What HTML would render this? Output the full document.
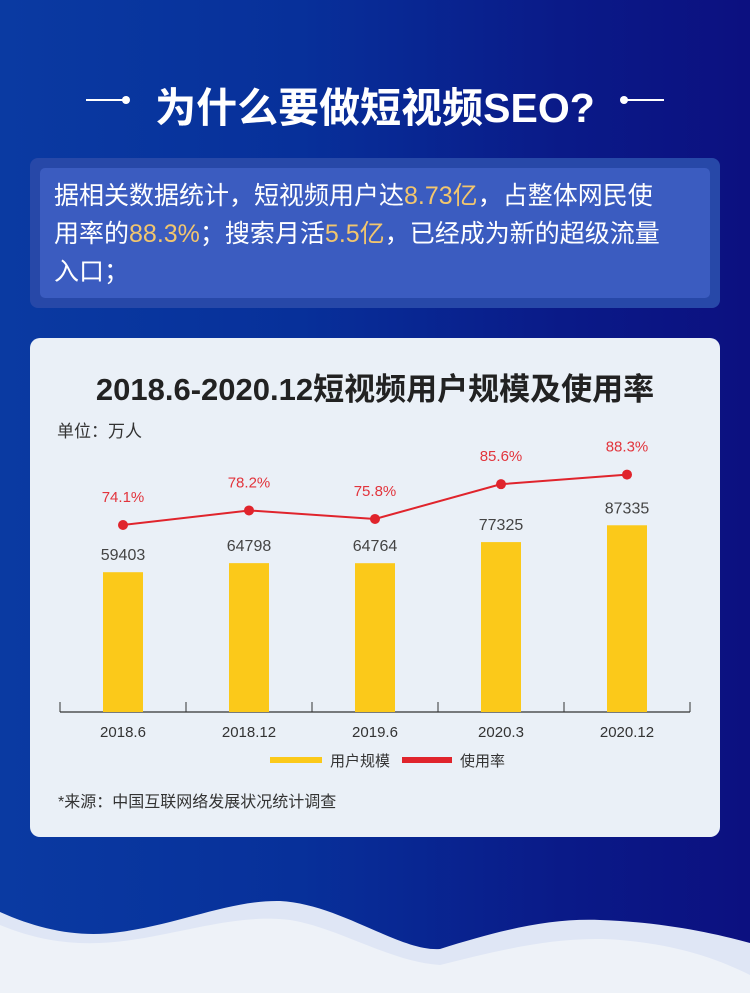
<!DOCTYPE html>
<html><head><meta charset="utf-8"><style>
body{margin:0;width:750px;height:993px;overflow:hidden;font-family:"Liberation Sans","Noto Sans CJK SC",sans-serif;}
#bg{position:absolute;left:0;top:0;width:750px;height:993px;background:linear-gradient(90deg,#0a3aa2 0%,#07309a 40%,#0a1a88 75%,#0c1080 100%);}
.abs{position:absolute;}
</style></head><body>
<div id="bg"></div>
<svg class="abs" style="left:0;top:0" width="750" height="993">
<path d="M0 912 C40 930 80 938 120 932 C180 924 230 900 280 901 C340 904 400 952 440 949 C500 930 550 918 600 920 C660 922 710 932 750 943 L750 993 L0 993 Z" fill="#dfe6f5"/>
<path d="M0 925 C60 950 110 945 160 935 C210 925 250 915 290 920 C340 928 390 962 440 965 C500 950 560 935 620 940 C680 945 720 960 750 975 L750 993 L0 993 Z" fill="#eef2f8"/>
<line x1="86" y1="100" x2="125" y2="100" stroke="#fff" stroke-width="2"/><circle cx="126" cy="100" r="4" fill="#fff"/>
<line x1="624" y1="100" x2="664" y2="100" stroke="#fff" stroke-width="2"/><circle cx="624" cy="100" r="4" fill="#fff"/>
</svg>
<div class="abs" style="left:0;width:750px;top:74px;text-align:center;color:#fff;font-size:41px;font-weight:bold;">为什么要做短视频SEO?</div>
<div class="abs" style="left:30px;top:158px;width:690px;height:150px;background:#2748a8;border-radius:8px;"></div>
<div class="abs" style="left:40px;top:168px;width:670px;height:130px;background:#3b5cc0;border-radius:5px;"></div>
<div class="abs" style="left:54px;top:177px;width:660px;color:#fff;font-size:25px;line-height:38px;white-space:nowrap;">据相关数据统计，短视频用户达<span style="color:#f2c66e">8.73亿</span>，占整体网民使<br>用率的<span style="color:#f2c66e">88.3%</span>；搜索月活<span style="color:#f2c66e">5.5亿</span>，已经成为新的超级流量<br>入口；</div>
<div class="abs" style="left:30px;top:338px;width:690px;height:499px;background:#eaf0f7;border-radius:10px;"></div>
<div class="abs" style="left:30px;width:690px;top:364px;text-align:center;color:#222;font-size:31px;font-weight:bold;">2018.6-2020.12短视频用户规模及使用率</div>
<div class="abs" style="left:57px;top:417px;color:#333;font-size:17px;">单位：万人</div>
<svg id="chart" class="abs" style="left:0;top:0" width="750" height="993"></svg>
<div class="abs" style="left:58px;top:788px;color:#333;font-size:16px;">*来源：中国互联网络发展状况统计调查</div>
<script>
const categories=["2018.6","2018.12","2019.6","2020.3","2020.12"];
const users=[59403,64798,64764,77325,87335];
const rates=[74.1,78.2,75.8,85.6,88.3];
const svg=document.getElementById('chart');
const NS='http://www.w3.org/2000/svg';
function mk(t,a,txt){const e=document.createElementNS(NS,t);for(const k in a)e.setAttribute(k,a[k]);if(txt!==undefined)e.textContent=txt;svg.appendChild(e);return e;}
const x0=60,x1=690,base=712,band=(x1-x0)/categories.length;
const xc=i=>x0+band*(i+0.5);
const yBar=v=>base-(40+v*0.00168);
const yRate=v=>525-(v-74.1)*3.55;
let e=mk('line',{x1:x0,y1:base,x2:x1,y2:base,stroke:'#333','stroke-width':1.2});


for(let i=0;i<=categories.length;i++){
 e=mk('line',{x1:x0+band*i,y1:base-10,x2:x0+band*i,y2:base,stroke:'#333','stroke-width':1});
 
 
}
categories.forEach((c,i)=>{
 const y=yBar(users[i]);
 e=mk('rect',{x:xc(i)-20,y:y,width:40,height:base-y,fill:'#fbc91a'});
 
 
 e=mk('text',{x:xc(i),y:y-12,'text-anchor':'middle','font-size':16,fill:'#444'},users[i]);
 
 
 e=mk('text',{x:xc(i),y:737,'text-anchor':'middle','font-size':15,fill:'#333'},c);
 
 
});
const pts=rates.map((r,i)=>xc(i)+','+yRate(r)).join(' ');
e=mk('polyline',{points:pts,fill:'none',stroke:'#e0242c','stroke-width':2});


rates.forEach((r,i)=>{
 e=mk('circle',{cx:xc(i),cy:yRate(r),r:5,fill:'#e0242c'});
 
 
 e=mk('text',{x:xc(i),y:yRate(r)-23,'text-anchor':'middle','font-size':15,fill:'#e2343c'},r.toFixed(1)+'%');
 
 
});
e=mk('line',{x1:270,y1:760,x2:322,y2:760,stroke:'#fbc91a','stroke-width':6});


e=mk('text',{x:330,y:766,'font-size':15,fill:'#333'},'用户规模');


e=mk('line',{x1:402,y1:760,x2:452,y2:760,stroke:'#e0242c','stroke-width':6});


e=mk('text',{x:460,y:766,'font-size':15,fill:'#333'},'使用率');


</script>
</body></html>
